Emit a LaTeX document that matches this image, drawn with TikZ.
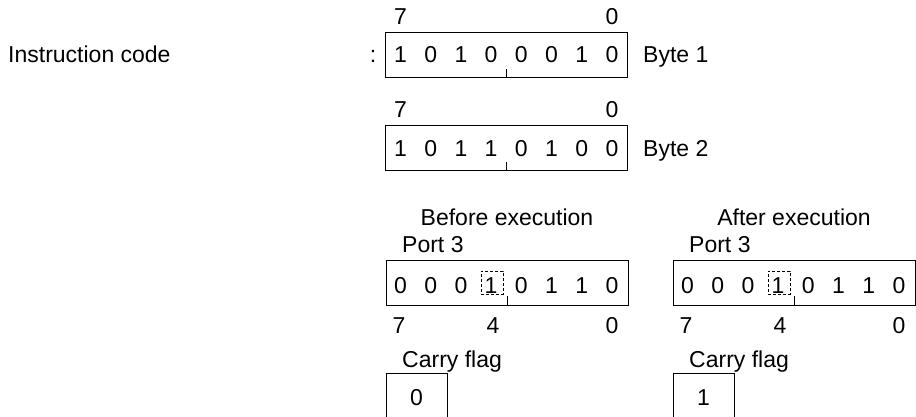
\documentclass[tikz,border=0pt]{standalone}
\usepackage{fontspec}
\setmainfont{Liberation Sans}
\usetikzlibrary{positioning}

\tikzset{
  reg/.style={draw, line width=1pt, minimum width=242pt, minimum height=45pt, inner sep=0pt},
  flagbox/.style={draw, line width=1pt, minimum width=61pt, minimum height=70pt, inner sep=0pt, anchor=north},
  bit/.style={inner sep=0pt, anchor=base},
  txt/.style={inner sep=0pt, anchor=base west},
  hl/.style={draw, dash pattern=on 3pt off 2pt, line width=0.7pt, minimum width=22pt, minimum height=23pt, inner sep=0pt},
}

\begin{document}
\begin{tikzpicture}[x=1pt, y=-1pt, font=\fontsize{23}{27}\selectfont]
    \clip (0,0) rectangle (916,417);

    % instruction bytes
    \node[txt] (instr) at (8,63) {Instruction code};
    \node[bit] (colon) at (373,63) {:};
    \node[reg] (byteA) at (506.5,55.5) {};
    \foreach \b [count=\i from 0] in {1,0,1,0,0,0,1,0}
        \node[bit] (a\i) at ({400.5+30.2*\i},63) {\b};
    \node[bit] (hiA) at (400.5,25) {7};
    \node[bit] (loA) at (611.9,25) {0};
    \draw[line width=1pt] (byteA.south) -- ++(0,-9);
    \node[txt] (lblA) at (643,63) {Byte 1};

    \node[reg] (byteB) at (506.5,148.5) {};
    \foreach \b [count=\i from 0] in {1,0,1,1,0,1,0,0}
        \node[bit] (b\i) at ({400.5+30.2*\i},157) {\b};
    \node[bit] (hiB) at (400.5,118) {7};
    \node[bit] (loB) at (611.9,118) {0};
    \draw[line width=1pt] (byteB.south) -- ++(0,-9);
    \node[txt] (lblB) at (643,157) {Byte 2};

    % before execution
    \node[bit] (headBef) at (507,225) {Before execution};
    \node[txt] (portBef) at (402,252) {Port 3};
    \node[reg] (regBef) at (507,282.5) {};
    \foreach \b [count=\i from 0] in {0,0,0,1,0,1,1,0}
        \node[bit] (p\i) at ({400.5+30.2*\i},293) {\b};
    \node[hl] (hlBef) at (492,282.5) {};
    \draw[line width=1pt] (regBef.south) -- ++(0,-10);
    \node[bit] (p7Bef) at (399,333) {7};
    \node[bit] (p4Bef) at (493,333) {4};
    \node[bit] (p0Bef) at (612,333) {0};
    \node[txt] (cyBef) at (402,367) {Carry flag};
    \node[flagbox] (cfBef) at (416.5,373) {};
    \node[bit] (cvBef) at (416.5,405) {0};

    % after execution
    \node[bit] (headAft) at (794,225) {After execution};
    \node[txt] (portAft) at (689,252) {Port 3};
    \node[reg] (regAft) at (794,282.5) {};
    \foreach \b [count=\i from 0] in {0,0,0,1,0,1,1,0}
        \node[bit] (q\i) at ({687.5+30.2*\i},293) {\b};
    \node[hl] (hlAft) at (779,282.5) {};
    \draw[line width=1pt] (regAft.south) -- ++(0,-10);
    \node[bit] (p7Aft) at (686,333) {7};
    \node[bit] (p4Aft) at (780,333) {4};
    \node[bit] (p0Aft) at (899,333) {0};
    \node[txt] (cyAft) at (689,367) {Carry flag};
    \node[flagbox] (cfAft) at (703.5,373) {};
    \node[bit] (cvAft) at (703.5,405) {1};
\end{tikzpicture}
\end{document}
